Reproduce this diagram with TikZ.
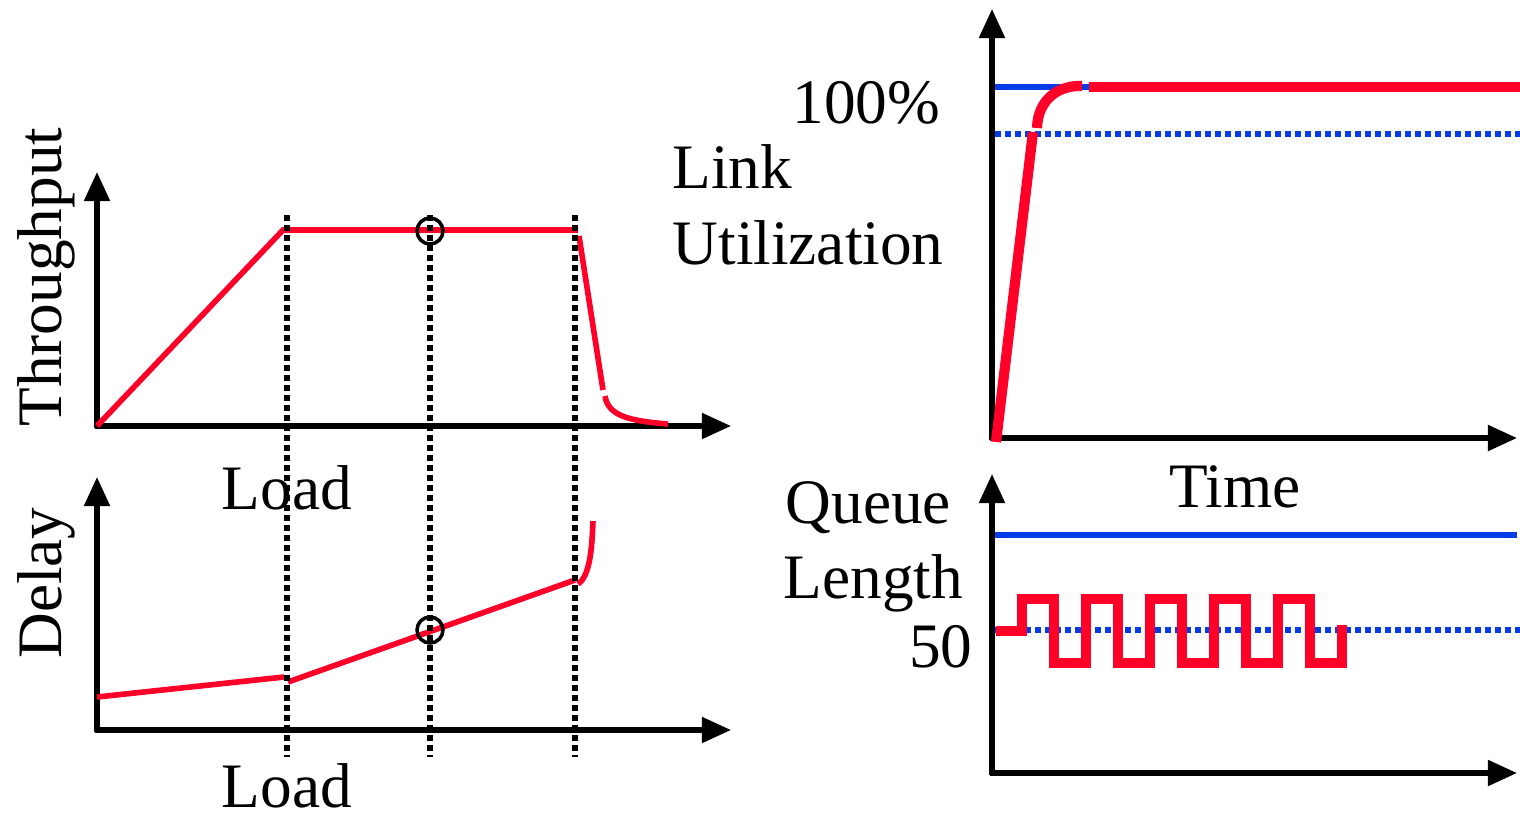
\documentclass[tikz,border=0pt]{standalone}
\usepackage{fontspec}
\setmainfont{Liberation Serif}
\usetikzlibrary{arrows.meta}

\definecolor{curvered}{RGB}{255,0,40}
\definecolor{limitblue}{RGB}{5,60,230}

\tikzset{
  axisline/.style={line width=1.45pt,-{Triangle[length=0.29cm,width=0.25cm]}},
  guide/.style={line width=1.7pt,dash pattern=on 0.06cm off 0.04cm},
  thincurve/.style={curvered,line width=1.6pt},
  thickcurve/.style={curvered,line width=2.9pt},
  target/.style={limitblue,line width=1.5pt},
  targetdot/.style={limitblue,line width=1.7pt,dash pattern=on 0.06cm off 0.04cm},
  marker/.style={line width=1pt},
  label/.style={font=\fontsize{18}{21}\selectfont,inner sep=0pt}
}

\begin{document}
\begin{tikzpicture}[x=0.01cm,y=-0.01cm]
   \useasboundingbox (0,0) rectangle (1520,817);

   % throughput against load
   \draw[axisline] (97,428) -- (97,172);
   \draw[axisline] (95,426) -- (731,426);
   \draw[thincurve] (97,426) -- (283,230) -- (578,230);
   \draw[thincurve] (579,236) -- (603,390);
   \draw[thincurve] (605,396) .. controls (608,416) and (630,421) .. (668,424);
   \node[label,rotate=90,anchor=base] (thr) at (61,277) {Throughput};
   \node[label,anchor=base] (ldtop) at (287,509) {Load};

   % delay against load
   \draw[axisline] (97,732) -- (97,477);
   \draw[axisline] (95,730) -- (731,730);
   \draw[thincurve] (97,697) -- (284,677);
   \draw[thincurve] (288,682) -- (575,580);
   \draw[thincurve] (578,584) .. controls (590,576) and (592,548) .. (593,521);
   \node[label,rotate=90,anchor=base] (dly) at (61,583) {Delay};
   \node[label,anchor=base,text depth=0pt] (ldbot) at (287,807) {Load};

   % operating points shared by both plots
   \foreach \gx in {287,430,575}
     \draw[guide] (\gx,215) -- (\gx,757);
   \draw[marker] (430,231) circle (13);
   \draw[marker] (430,630) circle (13);

   % link utilization against time
   \draw[axisline] (992,440) -- (992,9);
   \draw[axisline] (990,438) -- (1517,438);
   \draw[target] (995,87) -- (1090,87);
   \draw[targetdot] (995,134) -- (1520,134);
   \draw[thickcurve] (996,442) -- (1033,132);
   \draw[thickcurve] (1037,128) .. controls (1038,98) and (1060,85) .. (1082,86);
   \draw[thickcurve] (1089,87) -- (1520,87);
   \node[label,anchor=base east] (full) at (941,123) {100\%};
   \node[label,anchor=base west] (lnk) at (672,188) {Link};
   \node[label,anchor=base west] (util) at (672,264) {Utilization};
   \node[label,anchor=base] (tm) at (1235,507) {Time};

   % queue length against time
   \draw[axisline] (992,775) -- (992,474);
   \draw[axisline] (990,773) -- (1517,773);
   \draw[target] (995,535) -- (1517,535);
   \draw[targetdot] (995,630) -- (1520,630);
   \draw[thickcurve,line join=miter] (996,631) -- (1022,631) -- (1022,599)
     \foreach \k in {1,...,4} {
       -- ++(32,0) -- ++(0,64) -- ++(32,0) -- ++(0,-64)
     } -- ++(32,0) -- ++(0,64) -- ++(32,0) -- ++(0,-38);
   \node[label,anchor=base west] (que) at (785,523) {Queue};
   \node[label,anchor=base west] (len) at (783,598) {Length};
   \node[label,anchor=base east] (half) at (973,667) {50};
\end{tikzpicture}
\end{document}
